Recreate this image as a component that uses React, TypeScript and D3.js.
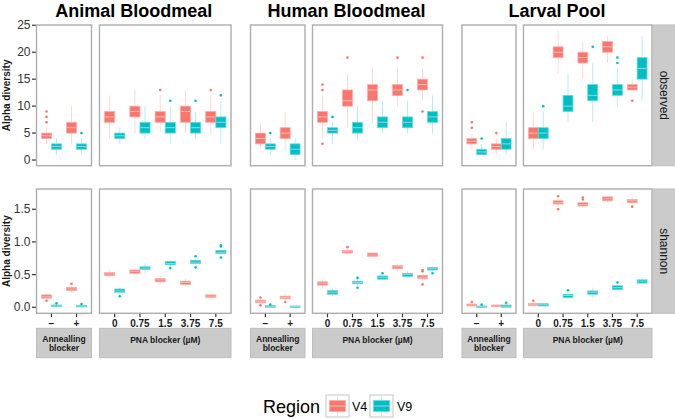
import React from 'react';
import * as d3 from 'd3';

const hosts = ['Animal Bloodmeal', 'Human Bloodmeal', 'Larval Pool'];
const annealCats = ['\u2212', '+'];
const pnaCats = ['0', '0.75', '1.5', '3.75', '7.5'];
const regions = ['V4', 'V9'];
const metrics = ['observed', 'shannon'];
const obsTicks = [0, 5, 10, 15, 20, 25];
const obsTickLabels = ['0', '5', '10', '15', '20', '25'];
const shanTicks = [0, 0.5, 1, 1.5];
const shanTickLabels = ['0.0', '0.5', '1.0', '1.5'];

// box stats: [lower whisker, q1, median, q3, upper whisker]
// order: −, +, 0, 0.75, 1.5, 3.75, 7.5
const animalObsV4 = [[3, 4, 4.5, 5, 6], [3, 5, 6, 7, 10], [4, 7, 8, 9, 12], [5, 8, 9, 10, 13], [5, 7, 8, 9, 12], [5, 7, 9, 10, 13], [5, 7, 8, 9, 12]];
const animalObsV4Out = [[7, 8, 9], [], [], [], [13], [], [13]];
const animalObsV9 = [[1, 2, 2.5, 3, 4], [1, 2, 2.5, 3, 4], [3, 4, 4.5, 5, 6], [4, 5, 6, 7, 10], [3, 5, 6, 7, 10], [4, 5, 6, 7, 9], [3, 6, 7, 8, 11]];
const animalObsV9Out = [[], [5], [], [], [11], [11], [12]];

const humanObsV4 = [[2, 3, 4, 5, 7], [2, 4, 5, 6, 9], [4, 7, 8, 9, 12], [6, 10, 11, 13, 16], [7, 11, 13, 14, 17], [10, 12, 13, 14, 17], [11, 13, 14, 15, 17]];
const humanObsV4Out = [[], [], [3, 13, 14], [19], [], [19], [9, 19]];
const humanObsV9 = [[1, 2, 2.5, 3, 4], [0, 1, 2, 3, 4], [3, 5, 5.5, 6, 7], [4, 5, 6, 7, 10], [5, 6, 7, 8, 11], [5, 6, 7, 8, 11], [5, 7, 8, 9, 12]];
const humanObsV9Out = [[5], [], [8], [], [], [13], []];

const larvalObsV4 = [[2, 3, 3.5, 4, 5], [1, 2, 2.5, 3, 4], [2, 4, 5, 6, 9], [16, 19, 20, 21, 24], [15, 18, 19, 20, 22], [18, 20, 21, 22, 23], [13, 13, 13.5, 14, 15]];
const larvalObsV4Out = [[6, 7], [5], [], [], [], [], [11]];
const larvalObsV9 = [[1, 1, 1.5, 2, 3], [1, 2, 3, 4, 7], [2, 4, 5, 6, 9], [7, 9, 10, 12, 16], [7, 11, 12, 14, 18], [10, 12, 13, 14, 17], [11, 15, 17, 19, 23]];
const larvalObsV9Out = [[4], [], [10], [], [21], [18, 19], []];

const animalShanV4 = [[0.12, 0.14, 0.16, 0.19, 0.2], [0.23, 0.255, 0.28, 0.305, 0.33], [0.45, 0.485, 0.51, 0.53, 0.57], [0.5, 0.52, 0.545, 0.57, 0.6], [0.35, 0.39, 0.42, 0.44, 0.48], [0.33, 0.35, 0.38, 0.4, 0.44], [0.13, 0.15, 0.17, 0.19, 0.22]];
const animalShanV4Out = [[0.1], [0.36], [], [], [], [], []];
const animalShanV9 = [[0, 0.01, 0.02, 0.035, 0.05], [0, 0.005, 0.015, 0.03, 0.04], [0.2, 0.23, 0.25, 0.28, 0.3], [0.52, 0.58, 0.6, 0.62, 0.68], [0.62, 0.65, 0.67, 0.7, 0.72], [0.64, 0.67, 0.69, 0.72, 0.74], [0.8, 0.82, 0.84, 0.87, 0.89]];
const animalShanV9Out = [[0.06], [0.05], [0.17], [], [0.6], [0.61, 0.78], [0.76, 0.93, 0.95]];

const humanShanV4 = [[0.05, 0.07, 0.09, 0.11, 0.13], [0.11, 0.13, 0.15, 0.17, 0.19], [0.3, 0.34, 0.37, 0.39, 0.43], [0.82, 0.83, 0.85, 0.87, 0.89], [0.76, 0.78, 0.8, 0.83, 0.85], [0.55, 0.59, 0.62, 0.64, 0.67], [0.4, 0.44, 0.46, 0.49, 0.5]];
const humanShanV4Out = [[0.03, 0.15], [0.08], [], [0.92], [], [], [0.35, 0.55, 0.57]];
const humanShanV9 = [[0, 0, 0.01, 0.025, 0.03], [0, 0, 0.01, 0.02, 0.02], [0.17, 0.2, 0.23, 0.255, 0.28], [0.33, 0.36, 0.38, 0.4, 0.43], [0.41, 0.43, 0.46, 0.48, 0.5], [0.45, 0.47, 0.5, 0.52, 0.55], [0.55, 0.57, 0.59, 0.61, 0.63]];
const humanShanV9Out = [[0.04], [], [], [0.3, 0.45], [0.52], [], [0.52]];

const larvalShanV4 = [[0.01, 0.02, 0.035, 0.05, 0.07], [0.005, 0.01, 0.02, 0.035, 0.04], [0.02, 0.025, 0.04, 0.06, 0.08], [1.56, 1.58, 1.6, 1.63, 1.65], [1.53, 1.55, 1.57, 1.6, 1.62], [1.6, 1.63, 1.66, 1.69, 1.7], [1.58, 1.6, 1.63, 1.65, 1.68]];
const larvalShanV4Out = [[0.08], [], [0.1], [1.5, 1.7], [1.65, 1.68], [], [1.54]];
const larvalShanV9 = [[0, 0, 0.01, 0.02, 0.03], [0, 0, 0.015, 0.035, 0.05], [0.01, 0.02, 0.04, 0.055, 0.06], [0.14, 0.15, 0.18, 0.2, 0.22], [0.14, 0.2, 0.23, 0.25, 0.3], [0.25, 0.27, 0.3, 0.33, 0.34], [0.36, 0.37, 0.4, 0.42, 0.46]];
const larvalShanV9Out = [[0.04], [0.07], [], [0.26], [], [0.38], []];

// [host][metric][region] -> [stats, outliers]
const boxTable = [
  [[[animalObsV4, animalObsV4Out], [animalObsV9, animalObsV9Out]], [[animalShanV4, animalShanV4Out], [animalShanV9, animalShanV9Out]]],
  [[[humanObsV4, humanObsV4Out], [humanObsV9, humanObsV9Out]], [[humanShanV4, humanShanV4Out], [humanShanV9, humanShanV9Out]]],
  [[[larvalObsV4, larvalObsV4Out], [larvalObsV9, larvalObsV9Out]], [[larvalShanV4, larvalShanV4Out], [larvalShanV9, larvalShanV9Out]]],
];

const W = 675;
const H = 419;
const font = '"Liberation Sans", Arial, Helvetica, sans-serif';
const colors = ['#F8766D', '#00BFC4'];
const tint = (c, t) => d3.interpolateRgb(c, '#ffffff')(t);

// layout
const hostPanels = [
  [[36.5, 91.5], [99.5, 231]],
  [[250.5, 305], [312.5, 442.5]],
  [[462, 516], [523.5, 652]],
];
const rowY = [[25, 165.7], [189, 313.3]];
const yDomains = [[-1.05, 25.05], [-0.092, 1.81]];
const stripY = [328.3, 357.7];
const rightStrip = [652.5, 675];

const Box = ({ cx, w, y, s, out, color }) => {
  const [lo, q1, med, q3, hi] = s;
  const top = y(q3);
  const h = Math.max(y(q1) - top, 1.5);
  return (
    <g>
      <line x1={cx} x2={cx} y1={y(hi)} y2={top} stroke={tint(color, 0.72)} strokeWidth={1} />
      <line x1={cx} x2={cx} y1={top + h} y2={y(lo)} stroke={tint(color, 0.72)} strokeWidth={1} />
      <rect x={cx - w / 2} y={top} width={w} height={h} fill={color} stroke={tint(color, 0.4)} strokeWidth={0.8} />
      <line x1={cx - w / 2 + 0.5} x2={cx + w / 2 - 0.5} y1={y(med)} y2={y(med)} stroke={tint(color, 0.5)} strokeWidth={1} />
      {out.map((o, i) => (
        <circle key={i} cx={cx} cy={y(o)} r={1.3} fill={color} />
      ))}
    </g>
  );
};

export default function App() {
  const panels = [];
  hosts.forEach((host, h) => {
    metrics.forEach((metric, m) => {
      const [top, bottom] = rowY[m];
      const y = d3.scaleLinear().domain(yDomains[m]).range([bottom, top]);
      [annealCats, pnaCats].forEach((cats, p) => {
        const [x0, x1] = hostPanels[h][p];
        const x = d3.scalePoint().domain(cats).range([x0, x1]).padding(0.6);
        const step = x.step();
        const offset = p === 0 ? 0 : annealCats.length;
        panels.push(
          <g key={`${h}-${m}-${p}`}>
            <rect x={x0} y={top} width={x1 - x0} height={bottom - top} fill="#fff" />
            {cats.map((c, ci) =>
              regions.map((r, ri) => {
                const [stats, outs] = boxTable[h][m][ri];
                return (
                  <Box
                    key={`${c}-${r}`}
                    cx={x(c) + (ri === 0 ? -1 : 1) * step * 0.2}
                    w={step * 0.4}
                    y={y}
                    s={stats[offset + ci]}
                    out={outs[offset + ci]}
                    color={colors[ri]}
                  />
                );
              })
            )}
            <rect x={x0} y={top} width={x1 - x0} height={bottom - top} fill="none" stroke="#adadad" strokeWidth={1.4} />
            {m === 1 &&
              cats.map((c) => (
                <g key={`t-${c}`}>
                  <line x1={x(c)} x2={x(c)} y1={bottom + 0.5} y2={bottom + 4} stroke="#333" strokeWidth={1.2} />
                  <text x={x(c)} y={327} textAnchor="middle" fontSize={10} fontWeight="bold" fill="#1a1a1a">
                    {c}
                  </text>
                </g>
              ))}
            {m === 1 && (
              <g>
                <rect x={x0} y={stripY[0]} width={x1 - x0} height={stripY[1] - stripY[0]} fill="#cbcbcb" stroke="#bdbdbd" strokeWidth={1} />
                {p === 0 ? (
                  <text x={(x0 + x1) / 2} textAnchor="middle" fontSize={8.5} fontWeight="bold" fill="#1a1a1a">
                    <tspan x={(x0 + x1) / 2} y={342.2}>Annealling</tspan>
                    <tspan x={(x0 + x1) / 2} y={351.2}>blocker</tspan>
                  </text>
                ) : (
                  <text x={(x0 + x1) / 2} y={343.4} textAnchor="middle" fontSize={8.5} fontWeight="bold" fill="#1a1a1a">
                    PNA blocker (µM)
                  </text>
                )}
              </g>
            )}
          </g>
        );
      });
    });
  });

  const axisLeft = hostPanels[0][0][0];
  const yAxes = metrics.map((metric, m) => {
    const [top, bottom] = rowY[m];
    const y = d3.scaleLinear().domain(yDomains[m]).range([bottom, top]);
    const ticks = m === 0 ? obsTicks : shanTicks;
    const labels = m === 0 ? obsTickLabels : shanTickLabels;
    return (
      <g key={`ya-${m}`}>
        {ticks.map((t, i) => (
          <g key={i}>
            <line x1={axisLeft - 4.5} x2={axisLeft - 0.7} y1={y(t)} y2={y(t)} stroke="#333" strokeWidth={1.2} />
            <text x={axisLeft - 6} y={y(t) + 4.2} textAnchor="end" fontSize={12} fill="#333">
              {labels[i]}
            </text>
          </g>
        ))}
        <text
          transform={`translate(9.5, ${(top + bottom) / 2}) rotate(-90)`}
          textAnchor="middle"
          fontSize={10}
          fontWeight="bold"
          fill="#1a1a1a"
        >
          Alpha diversity
        </text>
        <rect x={rightStrip[0]} y={top} width={rightStrip[1] - rightStrip[0] + 2} height={bottom - top} fill="#cbcbcb" stroke="#bdbdbd" strokeWidth={1} />
        <text
          transform={`translate(${(rightStrip[0] + rightStrip[1]) / 2 - 4}, ${(top + bottom) / 2}) rotate(90)`}
          textAnchor="middle"
          fontSize={12}
          fill="#1a1a1a"
        >
          {metric}
        </text>
      </g>
    );
  });

  const titles = hosts.map((host, h) => (
    <text
      key={host}
      x={(hostPanels[h][0][0] + hostPanels[h][1][1]) / 2}
      y={16.5}
      textAnchor="middle"
      fontSize={18}
      fontWeight="bold"
      fill="#000"
    >
      {host}
    </text>
  ));

  const legendKeys = [326, 370];
  const legendLabelX = [352, 397];
  const legend = (
    <g>
      <text x={263} y={413} fontSize={18} fill="#000">
        Region
      </text>
      {regions.map((r, i) => (
        <g key={r}>
          <rect x={legendKeys[i]} y={395} width={23} height={22} fill="#fff" stroke="#cfcfcf" strokeWidth={1.2} />
          <line x1={legendKeys[i] + 11.5} x2={legendKeys[i] + 11.5} y1={396.5} y2={415.5} stroke={tint(colors[i], 0.72)} strokeWidth={1} />
          <rect x={legendKeys[i] + 3.5} y={400.5} width={16} height={11} fill={colors[i]} stroke={tint(colors[i], 0.4)} strokeWidth={0.8} />
          <line x1={legendKeys[i] + 4} x2={legendKeys[i] + 19} y1={406} y2={406} stroke={tint(colors[i], 0.5)} strokeWidth={1} />
          <text x={legendLabelX[i]} y={411} fontSize={12.5} fill="#000">
            {r}
          </text>
        </g>
      ))}
    </g>
  );

  return (
    <svg
      width={W}
      height={H}
      viewBox={`0 0 ${W} ${H}`}
      style={{ position: 'absolute', left: 0, top: 0, background: '#fff' }}
      fontFamily={font}
    >
      <rect width={W} height={H} fill="#fff" />
      {titles}
      {panels}
      {yAxes}
      {legend}
    </svg>
  );
}
